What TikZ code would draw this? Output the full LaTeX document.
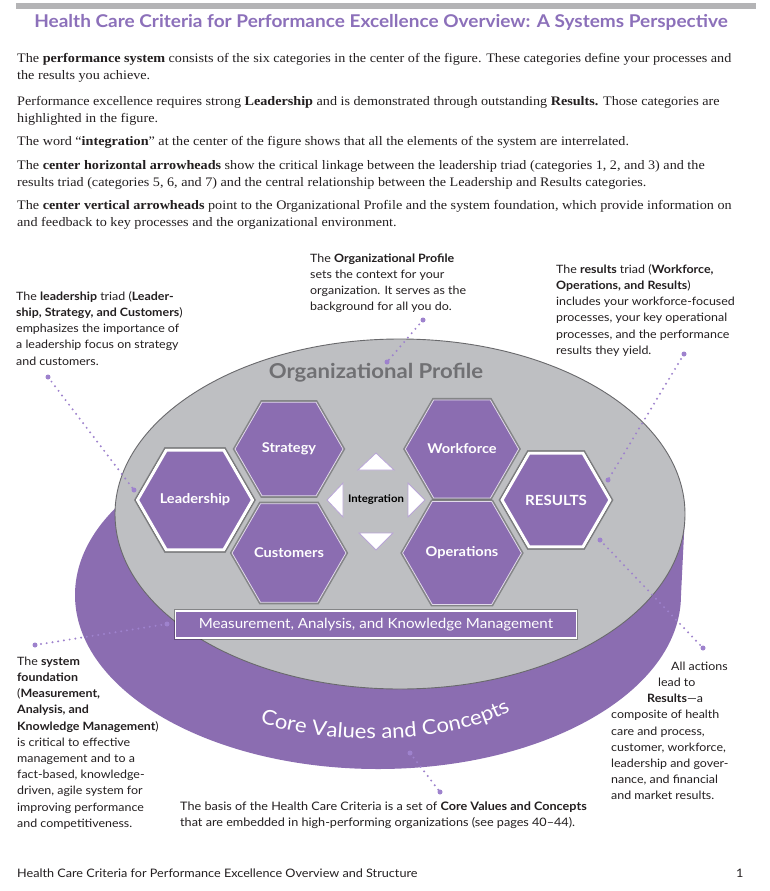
\documentclass[tikz,border=0pt]{standalone}
\usepackage{fontspec}
\setmainfont{Liberation Serif}[FakeStretch=1.09]
\newfontfamily\lato{Lato}[FakeStretch=1.08]
\usetikzlibrary{shapes.geometric,decorations.text}
\definecolor{hexpurple}{RGB}{139,109,177}
\definecolor{titlepurple}{RGB}{140,112,186}
\definecolor{dotpurple}{RGB}{158,130,205}
\definecolor{ellgray}{RGB}{190,191,194}
\definecolor{edgegray}{RGB}{105,105,108}
\definecolor{profgray}{RGB}{112,112,115}
\definecolor{bargray}{RGB}{180,180,182}
\definecolor{textblack}{RGB}{35,31,32}
\definecolor{trililac}{RGB}{185,165,215}
\begin{document}
\begin{tikzpicture}[x=1pt,y=-1pt,
  para/.style={anchor=north west, inner sep=0pt, align=left, font=\fontsize{13}{17}\selectfont, text=textblack},
  annot/.style={anchor=north west, inner sep=0pt, align=left, font=\lato\fontsize{11.5}{16.2}\selectfont, text=textblack},
  hexa/.style={regular polygon, regular polygon sides=6, minimum size=108pt, inner sep=0pt,
    fill=hexpurple, draw=white!75!hexpurple, line width=0.8pt, text=white,
    font=\lato\bfseries\fontsize{13.5}{16}\selectfont,
    preaction={draw=black, opacity=0.3, line width=4pt}},
  hexmain/.style={hexa, draw=white, line width=3pt, preaction={draw=black, opacity=0.3, line width=6pt}},
  tri/.style={fill=white, draw=trililac, line width=0.8pt},
  dotline/.style={draw=dotpurple, line width=2.2pt, dash pattern=on 0pt off 5.8pt, line cap=round},
  enddot/.style={fill=dotpurple}
]
\useasboundingbox (0,0) rectangle (769,891);
\fill[white] (0,0) rectangle (769,891);

% top bar and title
\fill[bargray] (16,3) rectangle (756,9);
\node[anchor=base, inner sep=0pt, font=\lato\bfseries\fontsize{17.6}{21}\selectfont, text=titlepurple] (title) at (381,28)
  {Health Care Criteria for Performance Excellence Overview: A Systems Perspective};

% body paragraphs
\node[para] (p1) at (17,50.1) {\strut The \textbf{performance system} consists of the six categories in the center of the figure. These categories define your processes and\\the results you achieve.};
\node[para] (p2) at (17,93.1) {\strut Performance excellence requires strong \textbf{Leadership} and is demonstrated through outstanding \textbf{Results.} Those categories are\\highlighted in the figure.};
\node[para] (p3) at (17,133.1) {\strut The word “\textbf{integration}” at the center of the figure shows that all the elements of the system are interrelated.};
\node[para] (p4) at (17,157.1) {\strut The \textbf{center horizontal arrowheads} show the critical linkage between the leadership triad (categories 1, 2, and 3) and the\\results triad (categories 5, 6, and 7) and the central relationship between the Leadership and Results categories.};
\node[para] (p5) at (17,197.1) {\strut The \textbf{center vertical arrowheads} point to the Organizational Profile and the system foundation, which provide information on\\and feedback to key processes and the organizational environment.};

% cylinder
\fill[hexpurple] (378,595) ellipse [x radius=303, y radius=174];
\fill[hexpurple] (115,514) -- (75,595) -- (681,595) -- (685,514) -- cycle;
\filldraw[fill=ellgray, draw=edgegray, line width=0.9pt] (400,514) ellipse [x radius=285, y radius=175];

\node[font=\lato\bfseries\fontsize{20.5}{24}\selectfont, text=profgray] (orgprof) at (376,373) {Organizational Profile};

% hexagons
\node[hexmain] (lead) at (195,500) {Leadership};
\node[hexa] (strat) at (289,449) {Strategy};
\node[hexa] (cust) at (289,553) {Customers};
\node[hexa] (work) at (462,449) {Workforce};
\node[hexa] (oper) at (462,553) {Operations};
\node[hexmain, font=\lato\bfseries\fontsize{14}{16}\selectfont] (res) at (556,500) {RESULTS};

% integration
\node[font=\lato\bfseries\fontsize{10.5}{12}\selectfont, text=black] (integ) at (376,500) {Integration};
\draw[tri] (358,470) -- (394,470) -- (376,453) -- cycle;
\draw[tri] (359,533) -- (393,533) -- (376,550) -- cycle;
\draw[tri] (343,483) -- (343,517) -- (327,500) -- cycle;
\draw[tri] (408,483) -- (408,517) -- (425,500) -- cycle;

% foundation bar
\node[draw=white, line width=1.2pt, fill=hexpurple, minimum width=401pt, minimum height=27pt, inner sep=0pt, text=white,
  font=\lato\fontsize{14}{16}\selectfont, preaction={draw=black, opacity=0.3, line width=3.5pt}] (makm) at (376,624.5)
  {Measurement, Analysis, and Knowledge Management};

% core values curved text
\path[decorate, decoration={text along path, text align=center,
  text={|\lato\fontsize{20.5}{24}\selectfont\color{white}|Core Values and Concepts}}]
  (255,721) .. controls (320,745) and (450,748) .. (515,708);

% annotations
\node[annot] (leadnote) at (16,288.7) {\strut The \textbf{leadership} triad (\textbf{Leader-}\\\textbf{ship, Strategy, and Customers})\\emphasizes the importance of\\a leadership focus on strategy\\and customers.};
\node[annot] (orgnote) at (310,250.7) {\strut The \textbf{Organizational Profile}\\sets the context for your\\organization. It serves as the\\background for all you do.};
\node[annot] (resnote) at (556,261.7) {\strut The \textbf{results} triad (\textbf{Workforce,}\\\textbf{Operations, and Results})\\includes your workforce-focused\\processes, your key operational\\processes, and the performance\\results they yield.};
\node[annot] (foundnote) at (17,653.7) {\strut The \textbf{system}\\\textbf{foundation}\\(\textbf{Measurement,}\\\textbf{Analysis, and}\\\textbf{Knowledge Management})\\is critical to effective\\management and to a\\fact-based, knowledge-\\driven, agile system for\\improving performance\\and competitiveness.};
\node[annot] (actnote) at (611,658.7) {\strut\hspace*{60pt}All actions\\\hspace*{47pt}lead to\\\hspace*{36pt}\textbf{Results}—a\\composite of health\\care and process,\\customer, workforce,\\leadership and gover-\\nance, and financial\\and market results.};
\node[annot, font=\lato\fontsize{11.7}{16}\selectfont] (corenote) at (180,799.2) {\strut The basis of the Health Care Criteria is a set of \textbf{Core Values and Concepts}\\that are embedded in high-performing organizations (see pages 40–44).};

% dotted connectors
\coordinate (d1a) at (48,377);  \coordinate (d1b) at (134,490);
\coordinate (d2a) at (423,320); \coordinate (d2b) at (387,362);
\coordinate (d3a) at (684,354); \coordinate (d3b) at (608,480);
\coordinate (d4a) at (600,540); \coordinate (d4b) at (703,648);
\coordinate (d5a) at (167,624); \coordinate (d5b) at (35,645);
\coordinate (d6a) at (410,753); \coordinate (d6b) at (440,792);
\foreach \a/\b in {d1a/d1b,d2a/d2b,d3a/d3b,d4a/d4b,d5a/d5b,d6a/d6b}{
  \draw[dotline] (\a) -- (\b);
  \fill[enddot] (\a) circle[radius=2.5pt];
  \fill[enddot] (\b) circle[radius=2.5pt];
}

% footer
\node[anchor=base west, inner sep=0pt, font=\lato\fontsize{11.7}{14}\selectfont, text=textblack] (footer) at (17,877)
  {Health Care Criteria for Performance Excellence Overview and Structure};
\node[anchor=base west, inner sep=0pt, font=\lato\fontsize{11.7}{14}\selectfont, text=textblack] (pagenum) at (736,877) {1};
\end{tikzpicture}
\end{document}
